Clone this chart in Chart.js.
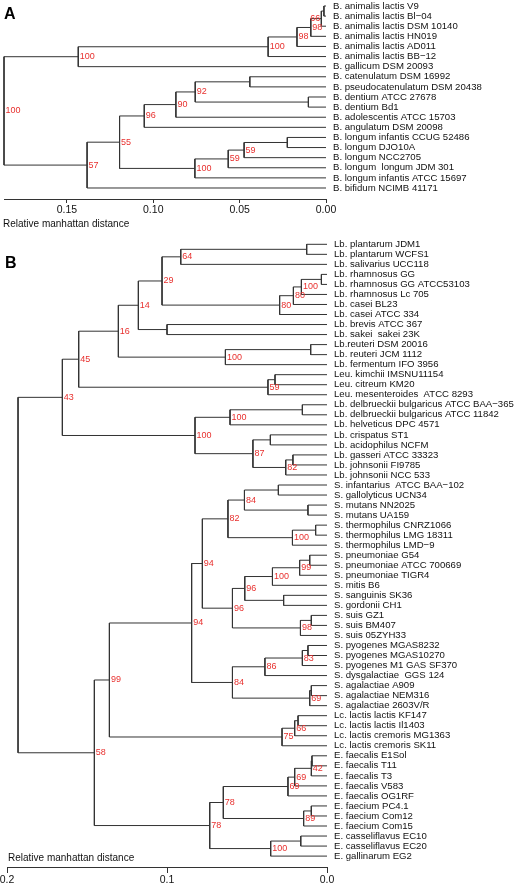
<!DOCTYPE html>
<html>
<head>
<meta charset="utf-8">
<script src="https://cdn.jsdelivr.net/npm/chart.js@4.4.1/dist/chart.umd.min.js"></script>
<style>
  html, body { margin: 0; padding: 0; background: #fff; }
  body { width: 515px; height: 886px; position: relative; overflow: hidden; }
  canvas { position: absolute; left: 0; }
  #treeA { top: 0; }
  #treeB { top: 230px; }
</style>
</head>
<body>
<canvas id="treeA" width="515" height="230"></canvas>
<canvas id="treeB" width="515" height="656"></canvas>
<script>
// Panel A - Bifidobacterium genomes
const leavesA = [
  'B. animalis lactis V9', 'B. animalis lactis Bl\u221204', 'B. animalis lactis DSM 10140',
  'B. animalis lactis HN019', 'B. animalis lactis AD011', 'B. animalis lactis BB\u221212',
  'B. gallicum DSM 20093', 'B. catenulatum DSM 16992', 'B. pseudocatenulatum DSM 20438',
  'B. dentium ATCC 27678', 'B. dentium Bd1', 'B. adolescentis ATCC 15703',
  'B. angulatum DSM 20098', 'B. longum infantis CCUG 52486', 'B. longum DJO10A',
  'B. longum NCC2705', 'B. longum  longum JDM 301', 'B. longum infantis ATCC 15697',
  'B. bifidum NCIMB 41171'
];
// [child, child, distance, bootstrap]  numbers = leaf index, 'nK' = node K
const nodesA = [
  [0, 1, 0.0012, null],        // n0
  ['n0', 2, 0.0027, 66],       // n1
  ['n1', 3, 0.0088, 98],       // n2
  ['n2', 4, 0.0168, 98],       // n3
  ['n3', 5, 0.0335, 100],      // n4
  ['n4', 6, 0.1434, 100],      // n5
  [7, 8, 0.0441, null],        // n6
  [9, 10, 0.0102, null],       // n7
  ['n6', 'n7', 0.0757, 92],    // n8
  ['n8', 11, 0.0869, 90],      // n9
  ['n9', 12, 0.1052, 96],      // n10
  [13, 14, 0.0224, null],      // n11
  ['n11', 15, 0.0474, 59],     // n12
  ['n12', 16, 0.0566, 59],     // n13
  ['n13', 17, 0.0759, 100],    // n14
  ['n10', 'n14', 0.1195, 55],  // n15
  ['n15', 18, 0.1383, 57],     // n16
  ['n5', 'n16', 0.1864, 100]   // n17 root
];
const ticksA = [0, 0.05, 0.10, 0.15];

// Panel B - lactic acid bacteria
const leavesB = [
  'Lb. plantarum JDM1', 'Lb. plantarum WCFS1', 'Lb. salivarius UCC118',
  'Lb. rhamnosus GG', 'Lb. rhamnosus GG ATCC53103', 'Lb. rhamnosus Lc 705',
  'Lb. casei BL23', 'Lb. casei ATCC 334', 'Lb. brevis ATCC 367', 'Lb. sakei  sakei 23K',
  'Lb.reuteri DSM 20016', 'Lb. reuteri JCM 1112', 'Lb. fermentum IFO 3956',
  'Leu. kimchii IMSNU11154', 'Leu. citreum KM20', 'Leu. mesenteroides  ATCC 8293',
  'Lb. delbrueckii bulgaricus ATCC BAA\u2212365', 'Lb. delbrueckii bulgaricus ATCC 11842',
  'Lb. helveticus DPC 4571', 'Lb. crispatus ST1', 'Lb. acidophilus NCFM',
  'Lb. gasseri ATCC 33323', 'Lb. johnsonii FI9785', 'Lb. johnsonii NCC 533',
  'S. infantarius  ATCC BAA\u2212102', 'S. gallolyticus UCN34', 'S. mutans NN2025',
  'S. mutans UA159', 'S. thermophilus CNRZ1066', 'S. thermophilus LMG 18311',
  'S. thermophilus LMD\u22129', 'S. pneumoniae G54', 'S. pneumoniae ATCC 700669',
  'S. pneumoniae TIGR4', 'S. mitis B6', 'S. sanguinis SK36', 'S. gordonii CH1',
  'S. suis GZ1', 'S. suis BM407', 'S. suis 05ZYH33', 'S. pyogenes MGAS8232',
  'S. pyogenes MGAS10270', 'S. pyogenes M1 GAS SF370', 'S. dysgalactiae  GGS 124',
  'S. agalactiae A909', 'S. agalactiae NEM316', 'S. agalactiae 2603V/R',
  'Lc. lactis lactis KF147', 'Lc. lactis lactis Il1403', 'Lc. lactis cremoris MG1363',
  'Lc. lactis cremoris SK11', 'E. faecalis E1Sol', 'E. faecalis T11', 'E. faecalis T3',
  'E. faecalis V583', 'E. faecalis OG1RF', 'E. faecium PC4.1', 'E. faecium Com12',
  'E. faecium Com15', 'E. casseliflavus EC10', 'E. casseliflavus EC20', 'E. gallinarum EG2'
];
const nodesB = [
  [0, 1, 0.0127, null],        // n0
  ['n0', 2, 0.0914, 64],       // n1
  [3, 4, 0.0035, null],        // n2
  ['n2', 5, 0.0160, 100],      // n3
  ['n3', 6, 0.0210, 80],       // n4
  ['n4', 7, 0.0296, 80],       // n5
  ['n1', 'n5', 0.1031, 29],    // n6
  [8, 9, 0.1000, null],        // n7
  ['n6', 'n7', 0.1179, 14],    // n8
  [10, 11, 0.0102, null],      // n9
  ['n9', 12, 0.0635, 100],     // n10
  ['n8', 'n10', 0.1304, 16],   // n11
  [13, 14, 0.0325, null],      // n12
  ['n12', 15, 0.0369, 59],     // n13
  ['n11', 'n13', 0.1552, 45],  // n14
  [16, 17, 0.0154, null],      // n15
  ['n15', 18, 0.0606, 100],    // n16
  [19, 20, 0.0354, null],      // n17
  [21, 22, 0.0213, null],      // n18
  ['n18', 23, 0.0258, 82],     // n19
  ['n17', 'n19', 0.0463, 87],  // n20
  ['n16', 'n20', 0.0825, 100], // n21
  ['n14', 'n21', 0.1654, 43],  // n22
  [24, 25, 0.0304, null],      // n23
  [26, 27, 0.0119, null],      // n24
  ['n23', 'n24', 0.0516, 84],  // n25
  [28, 29, 0.0071, null],      // n26
  ['n26', 30, 0.0216, 100],    // n27
  ['n25', 'n27', 0.0619, 82],  // n28
  [31, 32, 0.0108, null],      // n29
  ['n29', 33, 0.0171, 99],     // n30
  ['n30', 34, 0.0341, 100],    // n31
  [35, 36, 0.0271, null],      // n32
  ['n31', 'n32', 0.0514, 96],  // n33
  [37, 38, 0.0098, null],      // n34
  ['n34', 39, 0.0166, 98],     // n35
  ['n33', 'n35', 0.0591, 96],  // n36
  ['n28', 'n36', 0.0779, 94],  // n37
  [40, 41, 0.0119, null],      // n38
  ['n38', 42, 0.0154, 83],     // n39
  ['n39', 43, 0.0388, 86],     // n40
  [44, 45, 0.0098, null],      // n41
  ['n41', 46, 0.0108, 69],     // n42
  ['n40', 'n42', 0.0591, 84],  // n43
  ['n37', 'n43', 0.0846, 94],  // n44
  [47, 48, 0.0181, null],      // n45
  ['n45', 49, 0.0202, 66],     // n46
  ['n46', 50, 0.0281, 75],     // n47
  [51, 52, 0.0094, null],      // n48
  ['n48', 53, 0.0098, 42],     // n49
  ['n49', 54, 0.0202, 69],     // n50
  ['n50', 55, 0.0244, 69],     // n51
  [56, 57, 0.0098, null],      // n52
  ['n52', 58, 0.0146, 89],     // n53
  ['n51', 'n53', 0.0648, 78],  // n54
  [59, 60, 0.0164, null],      // n55
  ['n55', 61, 0.0352, 100],    // n56
  ['n54', 'n56', 0.0733, 78],  // n57
  ['n44', 'n47', 0.1360, 99],  // n58
  ['n58', 'n57', 0.1454, 58],  // n59
  ['n22', 'n59', 0.1931, null] // n60 root
];
const ticksB = [0, 0.1, 0.2];

const axisTitle = 'Relative manhattan distance';
const FONT = '"Liberation Sans", Arial, Helvetica, sans-serif';
const LINE = '#333';

// turn the node list into elbow segments (one dataset per node) + support labels
function buildTree(nodes) {
  const pos = [];
  const yOf = c => typeof c === 'number' ? c : pos[+c.slice(1)].y;
  const hOf = c => typeof c === 'number' ? 0 : pos[+c.slice(1)].h;
  const datasets = [], supports = [];
  nodes.forEach(([a, b, h, bs], i) => {
    const ya = yOf(a), yb = yOf(b);
    pos[i] = { y: (ya + yb) / 2, h: h };
    datasets.push({
      data: [{x: hOf(a), y: ya}, {x: h, y: ya}, {x: h, y: yb}, {x: hOf(b), y: yb}],
      showLine: true, pointRadius: 0, borderColor: LINE, borderWidth: 1,
      tension: 0, fill: false, clip: false
    });
    if (bs !== null) supports.push({x: h, y: pos[i].y, text: String(bs)});
  });
  return {datasets, supports};
}

const treeText = {
  id: 'treeText',
  afterDatasetsDraw(chart, args, o) {
    const {ctx, chartArea} = chart;
    const xs = chart.scales.x, ys = chart.scales.y;
    ctx.save();
    ctx.textBaseline = 'middle';
    ctx.textAlign = 'left';
    ctx.fillStyle = '#111';
    ctx.font = '9.6px ' + FONT;
    o.leaves.forEach((name, i) => {
      ctx.fillText(name, chartArea.right + o.labelGap, ys.getPixelForValue(i));
    });
    ctx.font = '9px ' + FONT;
    ctx.fillStyle = '#e8302e';
    o.supports.forEach(s => {
      const px = xs.getPixelForValue(s.x), py = ys.getPixelForValue(s.y);
      const w = ctx.measureText(s.text).width;
      if (px + 2 + w > chartArea.right) {
        ctx.textAlign = 'right';
        ctx.fillText(s.text, px - 1, py);
      } else {
        ctx.textAlign = 'left';
        ctx.fillText(s.text, px + 1.5, py);
      }
    });
    ctx.fillStyle = '#111';
    ctx.textAlign = 'left';
    ctx.font = '10px ' + FONT;
    ctx.fillText(axisTitle, chartArea.left + o.titleDx, chartArea.bottom + o.titleDy);
    ctx.fillStyle = '#000';
    ctx.font = 'bold 16px ' + FONT;
    ctx.textBaseline = 'alphabetic';
    ctx.fillText(o.letter, o.letterX, o.letterY);
    ctx.restore();
  }
};

function makeTree(id, leaves, nodes, ticks, L) {
  const tree = buildTree(nodes);
  return new Chart(document.getElementById(id), {
    type: 'scatter',
    data: { datasets: tree.datasets },
    plugins: [treeText],
    options: {
      responsive: false,
      animation: false,
      devicePixelRatio: 1,
      events: [],
      layout: { padding: { left: L.left, right: L.right, top: 0, bottom: 0 } },
      plugins: {
        legend: { display: false },
        tooltip: { enabled: false },
        treeText: {
          leaves: leaves, supports: tree.supports, labelGap: L.labelGap,
          titleDx: L.titleDx, titleDy: L.titleDy,
          letter: L.letter, letterX: L.letterX, letterY: L.letterY
        }
      },
      scales: {
        x: {
          type: 'linear', position: 'bottom', reverse: true,
          min: 0, max: L.xMax,
          afterBuildTicks: s => { s.ticks = ticks.map(v => ({value: v})); },
          afterFit: s => { s.height = L.axisHeight; },
          grid: { display: true, drawOnChartArea: false, drawTicks: true,
                  tickLength: L.tickLength, color: LINE, lineWidth: 1 },
          border: { display: true, color: LINE, width: 1 },
          ticks: { padding: 1, color: '#111', maxRotation: 0, autoSkip: false,
                   font: { family: FONT, size: 10.5 },
                   callback: v => v.toFixed(L.decimals) }
        },
        y: { type: 'linear', display: false, reverse: true, min: L.yMin, max: L.yMax }
      }
    }
  });
}

makeTree('treeA', leavesA, nodesA, ticksA, {
  left: 4, right: 189, xMax: 0.1864, yMin: -0.593, yMax: 19.088,
  axisHeight: 31, tickLength: 4, decimals: 2, labelGap: 7,
  titleDx: -1, titleDy: 25, letter: 'A', letterX: 4, letterY: 18.5
});
makeTree('treeB', leavesB, nodesB, ticksB, {
  left: 7, right: 188, xMax: 0.2, yMin: -1.426, yMax: 62.087,
  axisHeight: 19, tickLength: 6, decimals: 1, labelGap: 7,
  titleDx: 1, titleDy: -9, letter: 'B', letterX: 5, letterY: 37.7
});
</script>
</body>
</html>
